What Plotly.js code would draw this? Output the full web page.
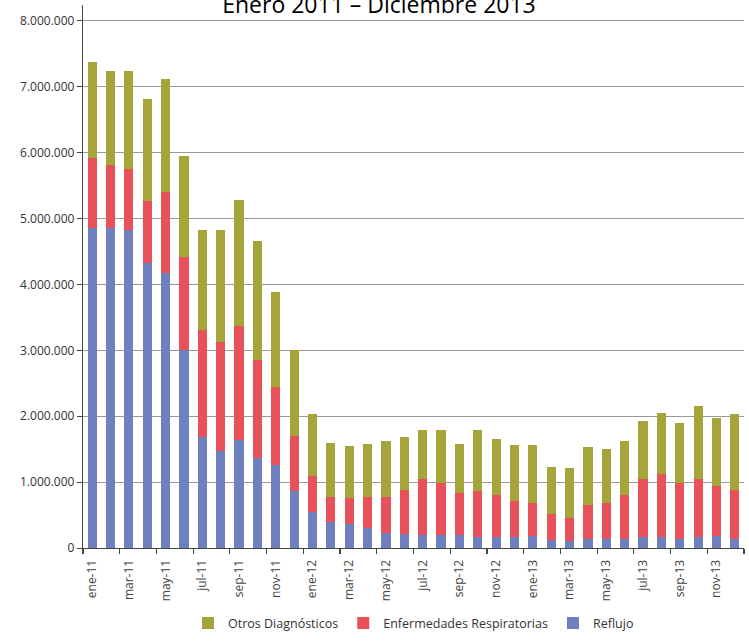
<!DOCTYPE html>
<html>
<head>
<meta charset="utf-8">
<script src="https://cdn.plot.ly/plotly-3.0.1.min.js"></script>
<style>html,body{margin:0;padding:0;background:#fff;}#chart{width:749px;height:643px;}</style>
</head>
<body>
<div id="chart"></div>
<script>
var months = ["ene-11","feb-11","mar-11","abr-11","may-11","jun-11","jul-11","ago-11","sep-11","oct-11","nov-11","dic-11",
              "ene-12","feb-12","mar-12","abr-12","may-12","jun-12","jul-12","ago-12","sep-12","oct-12","nov-12","dic-12",
              "ene-13","feb-13","mar-13","abr-13","may-13","jun-13","jul-13","ago-13","sep-13","oct-13","nov-13","dic-13"];

// Cumulative tops (millions)
var topReflujo = [4.86,4.85,4.82,4.33,4.18,3.00,1.69,1.47,1.64,1.36,1.26,0.87,
                  0.54,0.40,0.36,0.31,0.23,0.21,0.19,0.19,0.20,0.16,0.16,0.16,
                  0.18,0.12,0.11,0.13,0.13,0.13,0.16,0.16,0.13,0.16,0.18,0.13];
var topResp    = [5.92,5.81,5.75,5.27,5.40,4.42,3.31,3.12,3.37,2.85,2.45,1.70,
                  1.10,0.78,0.76,0.78,0.78,0.88,1.04,0.98,0.84,0.86,0.81,0.72,
                  0.69,0.51,0.45,0.65,0.68,0.81,1.04,1.13,0.99,1.05,0.94,0.88];
var topTotal   = [7.38,7.24,7.24,6.82,7.11,5.95,4.83,4.83,5.28,4.66,3.88,3.00,
                  2.04,1.59,1.55,1.58,1.62,1.69,1.79,1.79,1.58,1.79,1.65,1.56,
                  1.56,1.23,1.21,1.53,1.50,1.62,1.92,2.05,1.90,2.16,1.97,2.03];

var yTickVals = [0,1000000,2000000,3000000,4000000,5000000,6000000,7000000,8000000];
var yTickText = ["0","1.000.000","2.000.000","3.000.000","4.000.000","5.000.000","6.000.000","7.000.000","8.000.000"];

var reflujo = [], resp = [], otros = [], idx = [];
for (var i = 0; i < months.length; i++) {
  idx.push(i);
  reflujo.push(topReflujo[i] * 1e6);
  resp.push((topResp[i] - topReflujo[i]) * 1e6);
  otros.push((topTotal[i] - topResp[i]) * 1e6);
}
var labVals = [], labText = [], bndVals = [];
for (var j = 0; j < months.length; j += 2) { labVals.push(j); labText.push(months[j]); }
for (var k = -0.5; k <= 35.5; k += 2) { bndVals.push(k); }

var traces = [
  {type:'bar', name:'Reflujo', x: idx, y: reflujo, marker:{color:'#6F80BE'}, hoverinfo:'none'},
  {type:'bar', name:'Enfermedades Respiratorias', x: idx, y: resp, marker:{color:'#E8505A'}, hoverinfo:'none'},
  {type:'bar', name:'Otros Diagnósticos', x: idx, y: otros, marker:{color:'#A6A53A'}, hoverinfo:'none'},
  {type:'scatter', x:[0], y:[0], xaxis:'x2', mode:'none', showlegend:false, hoverinfo:'none'}
];

var layout = {
  width: 749, height: 643,
  margin: {l: 83, r: 5, t: 5, b: 90},
  paper_bgcolor: '#fff', plot_bgcolor: '#fff',
  barmode: 'stack', bargap: 0.5,
  font: {family: 'Open Sans, Liberation Sans, sans-serif', color: '#333', size: 11},
  title: {text: 'Enero 2011 – Diciembre 2013', font: {size: 23, color: '#000', family: 'Open Sans, sans-serif'},
          x: 0.506, xref: 'container', xanchor: 'center', y: 0.993, yref: 'container', yanchor: 'middle'},
  xaxis: {range: [-0.5, 35.5], tickmode: 'array', tickvals: bndVals, ticktext: bndVals.map(function(){return '';}),
          ticks: 'outside', ticklen: 5, tickcolor: '#444', tickwidth: 1.2, showgrid: false, zeroline: false,
          showline: true, linecolor: '#444', linewidth: 1.2, fixedrange: true},
  xaxis2: {overlaying: 'x', anchor: 'y', side: 'bottom', range: [-0.5, 35.5], tickmode: 'array',
           tickvals: labVals, ticktext: labText, tickangle: -90, ticks: 'outside', ticklen: 6,
           tickcolor: 'rgba(0,0,0,0)', showgrid: false, zeroline: false,
           showline: false, tickfont: {size: 12, color: '#444'}, fixedrange: true},
  yaxis: {range: [0, 8240000], tickmode: 'array', tickvals: yTickVals, ticktext: yTickText,
          ticks: 'outside', ticklen: 5, tickcolor: '#444', showgrid: true, gridcolor: '#9A9A9A', gridwidth: 1,
          zeroline: false, showline: true, linecolor: '#444', linewidth: 1.2,
          tickfont: {size: 12, color: '#333'}, fixedrange: true},
  showlegend: true,
  legend: {orientation: 'h', x: 0.5, xanchor: 'center', y: -0.139, yanchor: 'middle', traceorder: 'reversed',
           font: {size: 12.5, color: '#333'}, itemwidth: 30}
};

Plotly.newPlot('chart', traces, layout, {displayModeBar: false, staticPlot: true});
</script>
</body>
</html>
